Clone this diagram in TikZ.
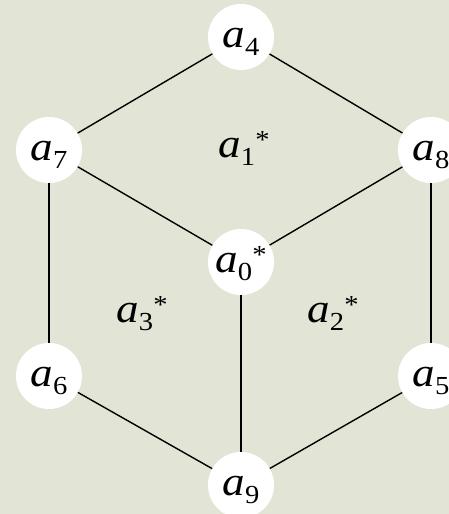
\documentclass[tikz,border=0pt]{standalone}
\usepackage{fontspec}
\setmainfont{Liberation Serif}[FakeStretch=1.1]
\definecolor{bg}{RGB}{226,228,214}
\newcommand\sbx[1]{\raisebox{-8pt}{\fontsize{26}{26}\selectfont #1}}
\newcommand\stx{\raisebox{9pt}{\fontsize{26}{26}\selectfont *}}
\newcommand\va[1]{\textit{a}\sbx{#1}}
\begin{document}
\begin{tikzpicture}[x=1pt,y=-1pt,
  vertex/.style={circle,fill=white,minimum size=66pt,inner sep=0pt,
    font=\fontsize{41}{43}\selectfont,text height=24pt,text depth=4pt},
  face/.style={anchor=base,inner sep=0pt,font=\fontsize{41}{43}\selectfont},
  edge/.style={line width=1.4pt,black}]
\useasboundingbox (0,0) rectangle (449,514);
\fill[bg] (0,0) rectangle (449,514);
\clip (0,0) rectangle (449,514);
\node[vertex] (a4) at (241,37) {\va{4}};
\node[vertex] (a7) at (49,150) {\va{7}};
\node[vertex] (a8) at (431,150) {\va{8}};
\node[vertex] (a0) at (241,262) {\va{0}\stx};
\node[vertex] (a6) at (49,376) {\va{6}};
\node[vertex] (a5) at (431,376) {\va{5}};
\node[vertex] (a9) at (241,485) {\va{9}};
\node[face] (l1) at (244,157) {\va{1}\stx};
\node[face] (l3) at (142,322) {\va{3}\stx};
\node[face] (l2) at (333,322) {\va{2}\stx};
\draw[edge] (a4) -- (a7);
\draw[edge] (a4) -- (a8);
\draw[edge] (a7) -- (a0);
\draw[edge] (a8) -- (a0);
\draw[edge] (a0) -- (a9);
\draw[edge] (a7) -- (a6);
\draw[edge] (a8) -- (a5);
\draw[edge] (a6) -- (a9);
\draw[edge] (a5) -- (a9);
\end{tikzpicture}
\end{document}
